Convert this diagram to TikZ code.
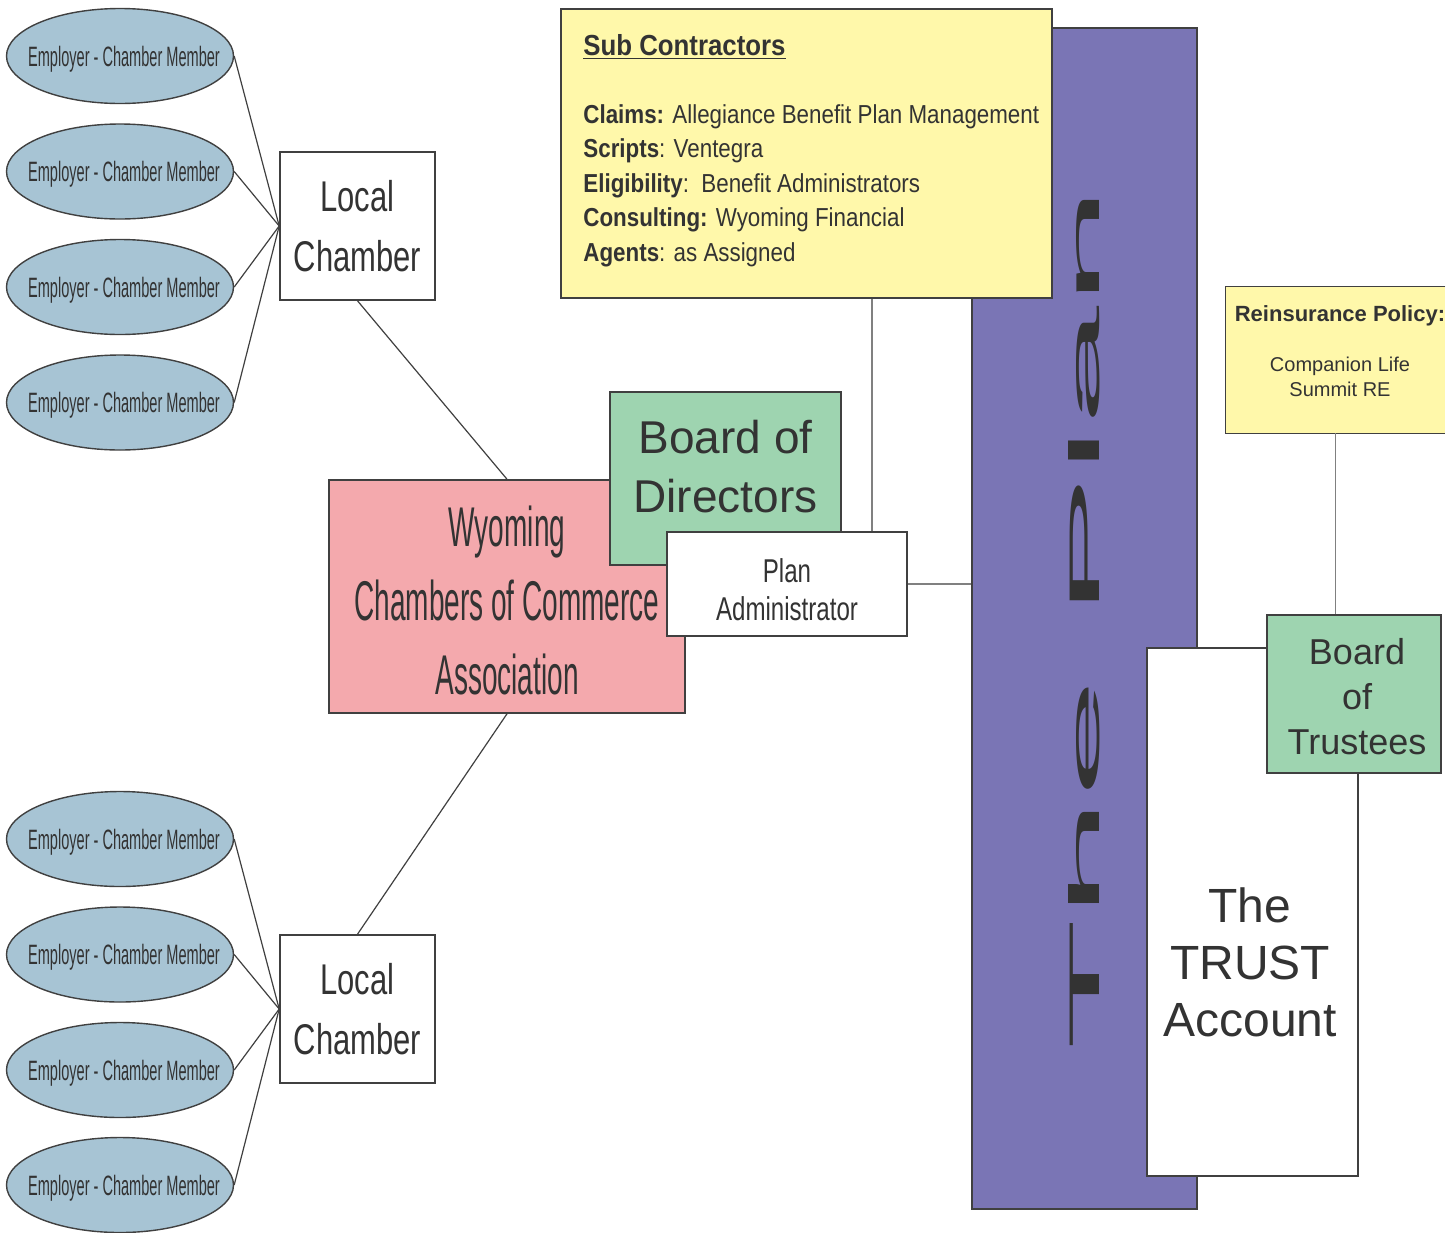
\documentclass[tikz,border=0pt]{standalone}
\usepackage{fontspec}
\setmainfont{Liberation Sans}
\newfontfamily\fellipse[FakeStretch=0.52]{Liberation Sans}
\newfontfamily\flocal[FakeStretch=0.72]{Liberation Sans}
\newfontfamily\fwyo[FakeStretch=0.5]{Liberation Sans}
\newfontfamily\fpa[FakeStretch=0.73]{Liberation Sans}
\newfontfamily\fsub[FakeStretch=0.86]{Liberation Sans}
\newfontfamily\fsubt[FakeStretch=0.89]{Liberation Sans}
\usetikzlibrary{shapes.geometric}
\definecolor{ellfill}{HTML}{A7C4D4}
\definecolor{pinkfill}{HTML}{F4A9AD}
\definecolor{greenfill}{HTML}{9ED4B0}
\definecolor{yellowfill}{HTML}{FFF8AA}
\definecolor{purplefill}{HTML}{7A75B5}
\definecolor{edgec}{HTML}{404040}
\definecolor{lightedge}{HTML}{808080}
\definecolor{txt}{HTML}{333333}
\begin{document}
\begin{tikzpicture}[x=0.5pt,y=-0.5pt,
  emp/.style={ellipse, draw=edgec, line width=0.7pt, fill=ellfill,
    minimum width=113.5pt, minimum height=47.5pt, inner sep=0pt,
    label={[font=\fellipse\fontsize{14}{16}\selectfont, text=txt, yshift=-1.5pt, xshift=2pt]center:Employer - Chamber Member}},
  box/.style={rectangle, draw=edgec, line width=0.8pt, inner sep=0pt, text=txt, align=center},
  lbl/.style={text=txt, align=center, inner sep=0pt},
  conn/.style={draw=edgec, line width=0.6pt},
  thinconn/.style={draw=lightedge, line width=0.6pt}]
\useasboundingbox (0,0) rectangle (1456,1232);
\fill[white] (0,0) rectangle (1456,1232);

% The Plan column
\node[box, fill=purplefill, minimum width=112.5pt, minimum height=590.5pt, text=black!80] (plan) at (1084.5,618.5)
  {\rotatebox{90}{\resizebox{432pt}{15.5pt}{The Plan}}};

% Sub contractors
\node[box, fill=yellowfill, minimum width=245.5pt, minimum height=144.5pt] (sub) at (806.5,153.5) {};
\node[anchor=base west, inner sep=0pt, text=txt, font=\fsubt\bfseries\fontsize{14.5}{17}\selectfont] (subt) at (583,55) {\underline{Sub Contractors}};
\node[anchor=north west, inner sep=0pt, text=txt, align=left, font=\fsub\fontsize{13}{17.25}\selectfont] (subb) at (583,104)
  {\textbf{Claims:} Allegiance Benefit Plan Management\\
   \textbf{Scripts}: Ventegra\\
   \textbf{Eligibility}:\ \ Benefit Administrators\\
   \textbf{Consulting:} Wyoming Financial\\
   \textbf{Agents}: as Assigned};

% Reinsurance
\node[rectangle, fill=yellowfill, minimum width=109.5pt, minimum height=73pt, inner sep=0pt,
  label={[lbl, font=\fontsize{10}{12.5}\selectfont, yshift=4.25pt, xshift=2.25pt]center:{\bfseries\fontsize{11}{12.5}\selectfont Reinsurance Policy:}\\[12.5pt]Companion Life\\Summit RE}] (re) at (1335.5,360) {};
\draw[edgec, line width=0.8pt] (re.north east) -- (re.north west) -- (re.south west) -- (re.south east);

% Trust and trustees
\node[box, fill=white, minimum width=105.5pt, minimum height=264pt,
  label={[lbl, font=\fontsize{24}{28.5}\selectfont, yshift=-25.25pt, xshift=-1.25pt]center:The\\TRUST\\Account}] (tr) at (1252.5,912) {};
\node[box, fill=greenfill, minimum width=87pt, minimum height=79pt,
  label={[lbl, font=\fontsize{18}{22.5}\selectfont, yshift=-1.5pt, xshift=1.5pt]center:Board\\of\\Trustees}] (bt) at (1354,694) {};

% Wyoming association, board of directors, plan administrator
\node[box, fill=pinkfill, minimum width=178pt, minimum height=116.5pt,
  label={[lbl, font=\fwyo\fontsize{28}{37}\selectfont, yshift=-2pt]center:Wyoming\\Chambers of Commerce\\Association}] (wy) at (507,596.5) {};
\node[box, fill=greenfill, minimum width=115.5pt, minimum height=86.5pt,
  label={[lbl, font=\fontsize{23}{29.5}\selectfont, yshift=5.9pt]center:Board of\\Directors}] (bod) at (725.5,478.5) {};
\node[box, fill=white, minimum width=120pt, minimum height=52pt,
  label={[lbl, font=\fpa\fontsize{16.5}{19}\selectfont, yshift=-2.75pt]center:Plan\\Administrator}] (pa) at (787,584) {};

% Local chambers
\node[box, fill=white, minimum width=77.5pt, minimum height=74pt, font=\flocal\fontsize{21.5}{30}\selectfont] (lc1) at (357.5,226) {Local\\Chamber};
\node[box, fill=white, minimum width=77.5pt, minimum height=74pt, font=\flocal\fontsize{21.5}{30}\selectfont] (lc2) at (357.5,1009) {Local\\Chamber};

% Employers
\node[emp] (e1) at (120,56) {};
\node[emp] (e2) at (120,171.5) {};
\node[emp] (e3) at (120,287) {};
\node[emp] (e4) at (120,402.5) {};
\node[emp] (e5) at (120,839) {};
\node[emp] (e6) at (120,954.5) {};
\node[emp] (e7) at (120,1070) {};
\node[emp] (e8) at (120,1185) {};

% Connectors
\foreach \e in {e1,e2,e3,e4} \draw[conn] (\e.east) -- (lc1.west);
\foreach \e in {e5,e6,e7,e8} \draw[conn] (\e.east) -- (lc2.west);
\draw[conn] (lc1.south) -- (wy.north);
\draw[conn] (lc2.north) -- (wy.south);
\coordinate (sx) at (872,0);
\draw[thinconn] (sub.south -| sx) -- (pa.north -| sx);
\draw[thinconn] (pa.east) -- (pa.east -| plan.west);
\draw[thinconn] (re.south) -- (re.south |- bt.north);
\end{tikzpicture}
\end{document}
